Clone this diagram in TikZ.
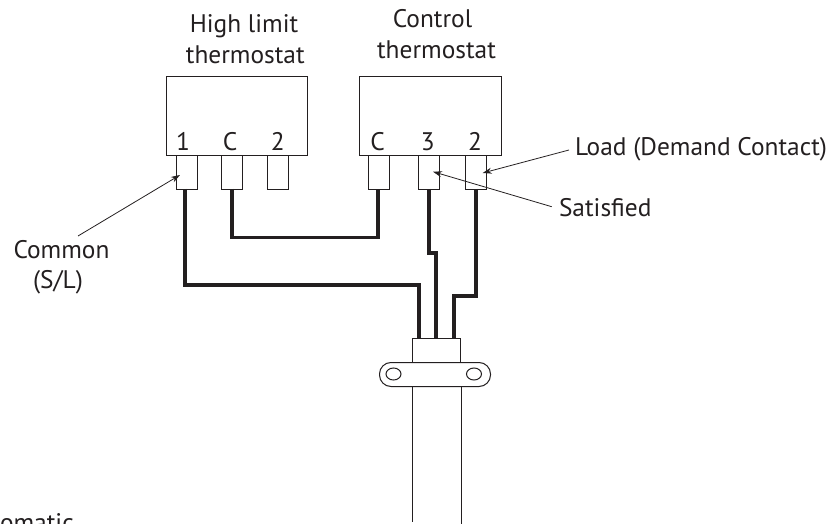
\documentclass[tikz,border=0pt]{standalone}
\usepackage{fontspec}
\setmainfont{PT Sans}
\usetikzlibrary{arrows.meta,shapes.geometric}
\definecolor{ink}{HTML}{231F20}
\tikzset{
  x=1pt,y=-1pt,
  housing/.style={draw=ink,line width=1pt,fill=white,minimum height=79pt,inner sep=0pt,anchor=north west},
  terminal/.style={draw=ink,line width=1pt,fill=white,minimum width=21pt,minimum height=34pt,inner sep=0pt,anchor=north},
  thinline/.style={draw=ink,line width=1pt},
  wire/.style={draw=ink,line width=3.8pt,line join=miter},
  leader/.style={draw=ink,line width=0.8pt,-{Stealth[length=9pt,width=6pt]}},
  lbl/.style={font=\fontsize{25.4pt}{30pt}\selectfont,text=ink,inner sep=0pt,outer sep=0pt},
  hole/.style={draw=ink,line width=1pt,ellipse,minimum width=15pt,minimum height=12pt,inner sep=0pt},
}
\begin{document}
\begin{tikzpicture}
\useasboundingbox (0,0) rectangle (833,524);
% housings
\node[housing,minimum width=141pt] (hl) at (165.7,76.5) {};
\node[housing,minimum width=142pt] (ct) at (358.7,76.5) {};
% terminals
\foreach \n/\xx in {ta/186.5,tb/232,tc/278,td/378.5,te/429,tf/476}{
  \node[terminal] (\n) at (\xx,155) {};
}
% terminal numbers
\node[lbl,anchor=base] (na) at (183,150) {1};
\node[lbl,anchor=base] (nb) at (230,150) {C};
\node[lbl,anchor=base] (nc) at (277.7,150) {2};
\node[lbl,anchor=base] (nd) at (377.7,150) {C};
\node[lbl,anchor=base] (ne) at (427.7,150) {3};
\node[lbl,anchor=base] (nf) at (475,150) {2};
% titles
\node[lbl,anchor=base] (t1a) at (244,33) {High limit};
\node[lbl,anchor=base] (t1b) at (245.3,64) {thermostat};
\node[lbl,anchor=base] (t2a) at (432.5,28) {Control};
\node[lbl,anchor=base] (t2b) at (436.5,59) {thermostat};
% side labels
\node[lbl,anchor=base west] (load) at (575,156) {Load (Demand Contact)};
\node[lbl,anchor=base west] (sat) at (559,216) {Satisfied};
\node[lbl,anchor=base] (com) at (61.5,258) {Common};
\node[lbl,anchor=base] (sl) at (58,288) {(S/L)};
\node[lbl,anchor=base west] (scheme) at (0,531) {omatic};
% clamp
\node[draw=ink,line width=1pt,minimum width=48pt,minimum height=24pt,inner sep=0pt,anchor=north west] (neck) at (412.3,338) {};
\node[draw=ink,line width=1pt,fill=white,rounded corners=11.5pt,minimum width=111pt,minimum height=24pt,inner sep=0pt,anchor=north west] (strap) at (379,362) {};
\node[hole] (h1) at (393.5,374) {};
\node[hole] (h2) at (474,374) {};
% cable
\coordinate (k1) at (412.3,386);
\coordinate (k2) at (461.5,386);
\coordinate (k3) at (412.3,522);
\coordinate (k4) at (461.5,524);
\draw[thinline] (k1) -- (k3);
\draw[thinline] (k2) -- (k4);
% wires
\coordinate (wa) at (185,189);
\coordinate (wb) at (232,189);
\coordinate (wd) at (378,189);
\coordinate (we) at (429,189);
\coordinate (wf) at (476,189);
\coordinate (ca) at (419,338);
\coordinate (cb) at (436,338);
\coordinate (cc) at (454,338);
\draw[wire] (wa) -- (185,285) -- (419,285) -- (ca);
\draw[wire] (wb) -- (232,237.5) -- (378,237.5) -- (wd);
\draw[wire] (we) -- (429,253) -- (436,253) -- (cb);
\draw[wire] (wf) -- (476,296) -- (454,296) -- (cc);
% leaders
\coordinate (la) at (78,236);
\coordinate (lb) at (180,175);
\coordinate (lc) at (569,150);
\coordinate (ld) at (482.7,173);
\coordinate (le) at (551.7,206.7);
\coordinate (lf) at (433,171.7);
\draw[leader] (la) -- (lb);
\draw[leader] (lc) -- (ld);
\draw[leader] (le) -- (lf);
\end{tikzpicture}
\end{document}
